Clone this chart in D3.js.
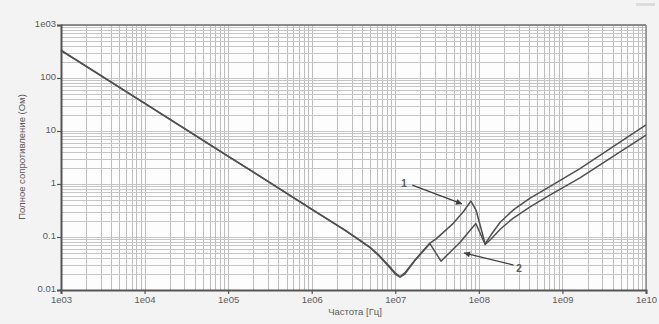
<!DOCTYPE html>
<html>
<head>
<meta charset="utf-8">
<script src="https://cdn.jsdelivr.net/npm/d3@7"></script>
<style>
  html, body { margin: 0; padding: 0; background: #f3f3f3; }
  svg { display: block; }
  text { font-family: "Liberation Sans", Arial, sans-serif; fill: #5a5a5a; }
</style>
</head>
<body>
<script>
// ---- data ----
const xTickValues = [1e3, 1e4, 1e5, 1e6, 1e7, 1e8, 1e9, 1e10];
const xTickLabels = ["1e03", "1e04", "1e05", "1e06", "1e07", "1e08", "1e09", "1e10"];
const yTickValues = [0.01, 0.1, 1, 10, 100, 1000];
const yTickLabels = ["0.01", "0.1", "1", "10", "100", "1e03"];

const xLabel = "Частота [Гц]";
const yLabel = "Полное сопротивление (Ом)";

// series 1 (upper curve at high frequency, larger resonance peak)
const freq1 = [1e3, 1e4, 1e5, 1e6, 2.4e6, 3.5e6, 5e6, 6.5e6, 8.5e6, 1.0e7, 1.14e7, 1.3e7, 1.72e7, 2.6e7, 3.13e7, 4.94e7, 6.52e7, 8.05e7, 9.25e7, 1.19e8, 1.4e8, 1.8e8, 2.56e8, 4.1e8, 6.5e8, 1.62e9, 4.0e9, 1e10];
const imp1  = [337, 33.7, 3.37, 0.337, 0.141, 0.094, 0.064, 0.044, 0.028, 0.021, 0.0178, 0.021, 0.037, 0.077, 0.094, 0.181, 0.30, 0.477, 0.323, 0.074, 0.11, 0.19, 0.32, 0.54, 0.83, 1.95, 5.0, 13.0];

// series 2 (lower curve at high frequency, smaller peak)
const freq2 = [1e3, 1e4, 1e5, 1e6, 2.4e6, 3.5e6, 5e6, 6.5e6, 8.5e6, 1.0e7, 1.14e7, 1.3e7, 1.72e7, 2.6e7, 3.52e7, 5.9e7, 9.2e7, 1.19e8, 1.4e8, 1.8e8, 2.56e8, 4.1e8, 6.5e8, 1.62e9, 4.0e9, 1e10];
const imp2  = [330, 33.2, 3.33, 0.333, 0.139, 0.093, 0.063, 0.043, 0.027, 0.020, 0.0174, 0.020, 0.036, 0.075, 0.035, 0.078, 0.18, 0.072, 0.092, 0.14, 0.225, 0.37, 0.57, 1.3, 3.3, 8.4];

// annotations: label, label position, arrow start, arrow end (data units)
const annLabels = ["1", "2"];
const annLabelF = [1.27e7, 3.02e8];
const annLabelZ = [1.04, 0.026];
const annFromF  = [1.6e7, 2.6e8];
const annFromZ  = [0.95, 0.0296];
const annToF    = [6.28e7, 6.64e7];
const annToZ    = [0.42, 0.050];

// ---- layout ----
const W = 659, H = 324;
const margin = { top: 25, right: 13, bottom: 34, left: 61 };
const iw = W - margin.left - margin.right;
const ih = H - margin.top - margin.bottom;

const svg = d3.select("body").append("svg").attr("width", W).attr("height", H);
svg.append("rect").attr("width", W).attr("height", H).attr("fill", "#f3f3f3");
// faint mark at top right of the reference
svg.append("rect").attr("x", 636).attr("y", 3).attr("width", 19).attr("height", 3).attr("fill", "#dcdcdc");

const g = svg.append("g").attr("transform", `translate(${margin.left},${margin.top})`);

const x = d3.scaleLog().domain([1e3, 1e10]).range([0, iw]);
const y = d3.scaleLog().domain([0.01, 1000]).range([ih, 0]);

g.append("rect").attr("width", iw).attr("height", ih).attr("fill", "#fdfdfd");

// grid
const xGrid = [];
for (let e = 3; e < 10; e++) for (let k = 1; k <= 9; k++) xGrid.push(k * Math.pow(10, e));
xGrid.push(1e10);
const yGrid = [];
for (let e = -2; e < 3; e++) for (let k = 1; k <= 9; k++) yGrid.push(k * Math.pow(10, e));
yGrid.push(1000);

g.append("g").selectAll("line").data(xGrid).join("line")
  .attr("x1", d => Math.round(x(d)) + 0.5).attr("x2", d => Math.round(x(d)) + 0.5)
  .attr("y1", 0).attr("y2", ih)
  .attr("stroke", "#bdbdbd").attr("stroke-width", 1);
g.append("g").selectAll("line").data(yGrid).join("line")
  .attr("y1", d => Math.round(y(d)) + 0.5).attr("y2", d => Math.round(y(d)) + 0.5)
  .attr("x1", 0).attr("x2", iw)
  .attr("stroke", "#c6c6c6").attr("stroke-width", 1);

// frame
g.append("line").attr("x1", 0).attr("x2", iw).attr("y1", 0).attr("y2", 0).attr("stroke", "#6e6e6e").attr("stroke-width", 1.5);
g.append("line").attr("x1", iw).attr("x2", iw).attr("y1", 0).attr("y2", ih).attr("stroke", "#8a8a8a").attr("stroke-width", 1.5);

// axes
const xAxis = d3.axisBottom(x).tickValues(xTickValues).tickFormat((d, i) => xTickLabels[i]).tickSize(4).tickPadding(2);
const yAxis = d3.axisLeft(y).tickValues(yTickValues).tickFormat((d, i) => yTickLabels[i]).tickSize(4).tickPadding(1);

const gx = g.append("g").attr("transform", `translate(0,${ih})`).call(xAxis);
const gy = g.append("g").call(yAxis);
[gx, gy].forEach(a => {
  a.select(".domain").attr("stroke", "#555").attr("stroke-width", 2);
  a.selectAll(".tick line").attr("stroke", "#555").attr("stroke-width", 1.2);
  a.selectAll(".tick text").attr("fill", "#5a5a5a").style("font-size", "9.5px")
    .style("font-family", "'Liberation Sans', Arial, sans-serif");
});
gy.selectAll(".tick text").attr("dy", "0.2em");

// axis titles
g.append("text").attr("x", 294).attr("y", ih + 25).attr("text-anchor", "middle")
  .style("font-size", "9.5px").text(xLabel);
g.append("text").attr("transform", `translate(${-36},${132}) rotate(-90)`).attr("text-anchor", "middle")
  .style("font-size", "9.5px").text(yLabel);

// curves
const line = d3.line().x(d => x(d[0])).y(d => y(d[1]));
const s1 = freq1.map((f, i) => [f, imp1[i]]);
const s2 = freq2.map((f, i) => [f, imp2[i]]);
g.append("path").datum(s2).attr("d", line).attr("fill", "none").attr("stroke", "#505050").attr("stroke-width", 1.5).attr("stroke-linejoin", "round");
g.append("path").datum(s1).attr("d", line).attr("fill", "none").attr("stroke", "#505050").attr("stroke-width", 1.5).attr("stroke-linejoin", "round");

// arrows
svg.append("defs").append("marker").attr("id", "arr").attr("viewBox", "0 0 10 10")
  .attr("refX", 10).attr("refY", 5).attr("markerWidth", 7).attr("markerHeight", 6)
  .attr("orient", "auto").attr("markerUnits", "userSpaceOnUse")
  .append("path").attr("d", "M0,0 L10,5 L0,10 Z").attr("fill", "#3f3f3f");

annLabels.forEach((lab, i) => {
  g.append("line")
    .attr("x1", x(annFromF[i])).attr("y1", y(annFromZ[i]))
    .attr("x2", x(annToF[i])).attr("y2", y(annToZ[i]))
    .attr("stroke", "#3f3f3f").attr("stroke-width", 1.3).attr("marker-end", "url(#arr)");
  g.append("text").attr("x", x(annLabelF[i])).attr("y", y(annLabelZ[i]))
    .attr("text-anchor", "middle").attr("dy", "0.35em")
    .style("font-size", "10px").style("font-weight", "bold").attr("fill", "#555").text(lab);
});
</script>
</body>
</html>
